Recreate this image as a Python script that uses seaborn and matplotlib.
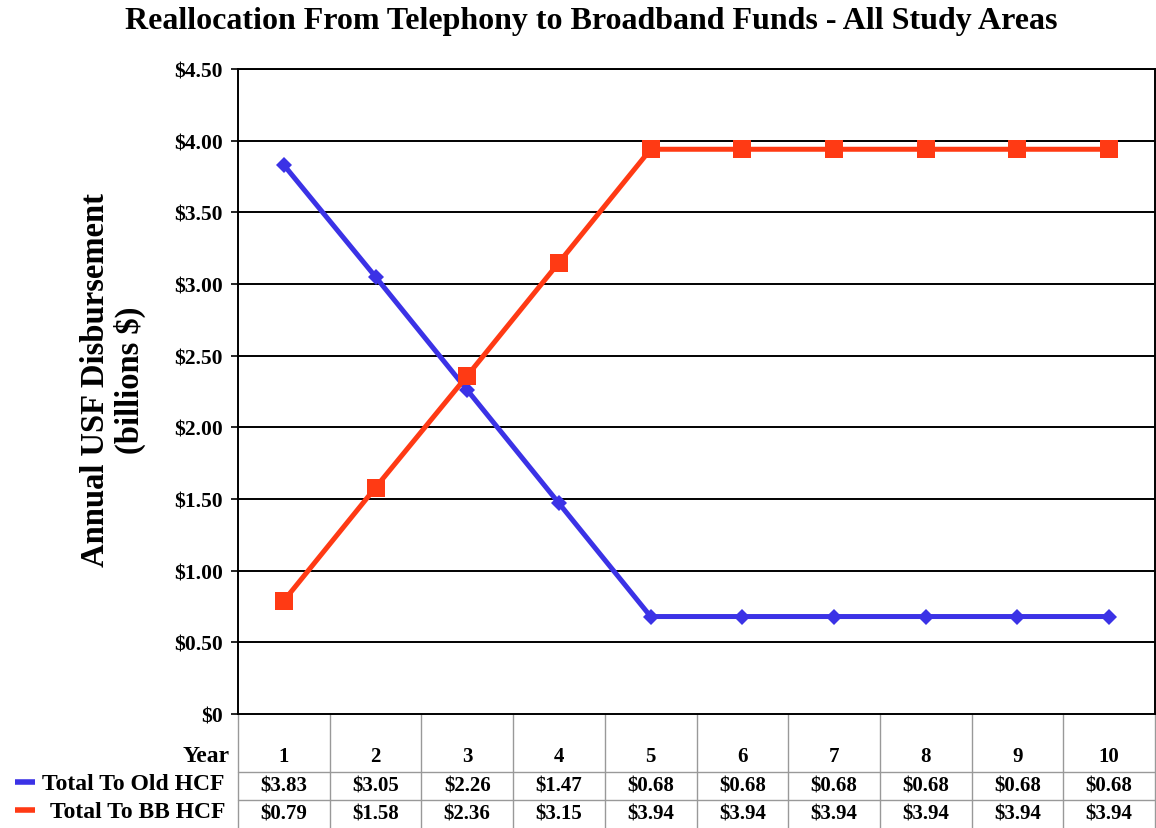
import matplotlib
matplotlib.use("Agg")
import matplotlib.pyplot as plt
import matplotlib.transforms as mtransforms
from matplotlib.lines import Line2D
import seaborn as sns
import pandas as pd

years = [1, 2, 3, 4, 5, 6, 7, 8, 9, 10]
old_hcf = [3.83, 3.05, 2.26, 1.47, 0.68, 0.68, 0.68, 0.68, 0.68, 0.68]
bb_hcf = [0.79, 1.58, 2.36, 3.15, 3.94, 3.94, 3.94, 3.94, 3.94, 3.94]
series_names = ["Total To Old HCF", "Total To BB HCF"]
yticks = [0, 0.5, 1.0, 1.5, 2.0, 2.5, 3.0, 3.5, 4.0, 4.5]
title = "Reallocation From Telephony to Broadband Funds - All Study Areas"
ylabel = "Annual USF Disbursement\n(billions $)"

BLUE = "#3b32e6"
RED = "#ff3a14"

sns.set_style("white")
plt.rcParams["font.family"] = ["Liberation Serif", "DejaVu Serif"]
plt.rcParams["font.weight"] = "bold"
plt.rcParams["text.color"] = "black"
plt.rcParams["ytick.color"] = "black"
plt.rcParams["ytick.labelcolor"] = "black"

fig = plt.figure(figsize=(11.56, 8.29), dpi=100)
ax = fig.add_axes([238 / 1156, 114 / 829, 917 / 1156, 645 / 829])

df = pd.DataFrame({"Year": years * 2,
                   "Value": old_hcf + bb_hcf,
                   "Series": [series_names[0]] * 10 + [series_names[1]] * 10})

sns.lineplot(data=df[df.Series == series_names[0]], x="Year", y="Value", ax=ax,
             color=BLUE, linewidth=3.6, marker="D", markersize=8.5,
             markeredgewidth=0, legend=False, zorder=4)
sns.lineplot(data=df[df.Series == series_names[1]], x="Year", y="Value", ax=ax,
             color=RED, linewidth=3.6, marker="s", markersize=12.5,
             markeredgewidth=0, legend=False, zorder=5)

ax.set_xlim(0.5, 10.5)
ax.set_ylim(0, 4.5)
ax.set_yticks(yticks)
ax.set_yticklabels(["$0" if v == 0 else f"${v:.2f}" for v in yticks],
                   fontsize=15.5, fontweight="bold", color="black")
ax.set_xticks([])
ax.set_xlabel("")
ax.set_ylabel("")
ax.tick_params(axis="y", length=5, width=1.2, color="black", pad=6, left=True)
for v in yticks[1:]:
    ax.axhline(v, color="black", linewidth=1.4, zorder=1)
for s in ax.spines.values():
    s.set_color("black")
    s.set_linewidth(1.4)

fig.text(113 / 1156, 1 - 380 / 829, ylabel, ha="center", va="center", rotation=90,
         fontsize=23.5, fontweight="bold", linespacing=1.1, multialignment="center",
         color="black")

fig.text(591 / 1156, 1 - 21 / 829, title, ha="center", va="center",
         fontsize=23, fontweight="bold", color="black")

# data table below the axes
trans = mtransforms.blended_transform_factory(ax.transData, ax.transAxes)
H = 645.0
def ay(py):
    return (715 - py) / H

grid_c = "#999999"
for i in range(11):
    xb = 0.5 + i
    ax.add_line(Line2D([xb, xb], [0, ay(829)], transform=trans, color=grid_c,
                       linewidth=1.0, clip_on=False))
for py in (773, 801):
    ax.add_line(Line2D([0.5, 10.5], [ay(py), ay(py)], transform=trans, color=grid_c,
                       linewidth=1.0, clip_on=False))

for x in years:
    ax.text(x, ay(757), str(x), transform=trans, ha="center", va="center",
            fontsize=15, fontweight="bold", clip_on=False, color="black")
for x, v in zip(years, old_hcf):
    ax.text(x, ay(787), f"${v:.2f}", transform=trans, ha="center", va="center",
            fontsize=15, fontweight="bold", clip_on=False, color="black")
for x, v in zip(years, bb_hcf):
    ax.text(x, ay(815), f"${v:.2f}", transform=trans, ha="center", va="center",
            fontsize=15, fontweight="bold", clip_on=False, color="black")

fig.text(230 / 1156, 1 - 757 / 829, "Year", ha="right", va="center",
         fontsize=17, fontweight="bold", color="black")
fig.text(225 / 1156, 1 - 785 / 829, series_names[0], ha="right", va="center",
         fontsize=17, fontweight="bold", color="black")
fig.text(225 / 1156, 1 - 813 / 829, series_names[1], ha="right", va="center",
         fontsize=17, fontweight="bold", color="black")
for py, c in ((783, BLUE), (811, RED)):
    fig.add_artist(Line2D([15 / 1156, 35 / 1156], [1 - py / 829, 1 - py / 829],
                          color=c, linewidth=4, solid_capstyle="butt",
                          transform=fig.transFigure))

fig.savefig("out.png", dpi=100)
